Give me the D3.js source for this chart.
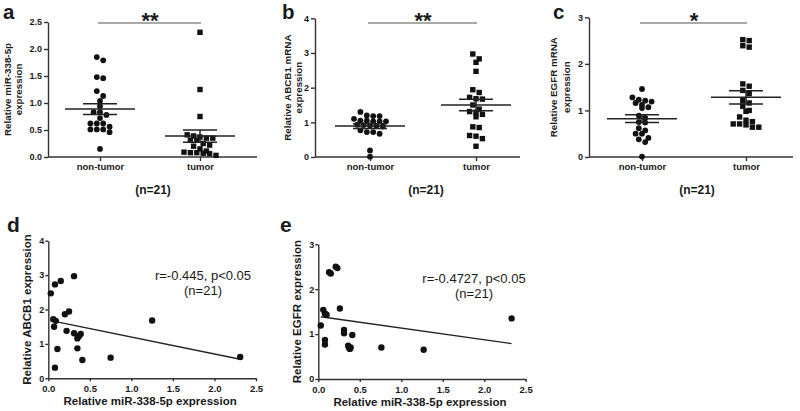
<!DOCTYPE html>
<html>
<head>
<meta charset="utf-8">
<script src="https://cdn.jsdelivr.net/npm/d3@7"></script>
<style>
  body { margin: 0; background: #fff; }
  svg text { font-family: "Liberation Sans", Arial, sans-serif; fill: #1a1a1a; }
</style>
</head>
<body>
<div id="chart"></div>
<script>
// groups on the dot plots
const groups = ['non-tumor', 'tumor'];

// a: miR-338-5p
const miRNonTumor = [1.85, 1.79, 1.46, 1.48, 1.22, 1.13, 1.04, 0.94, 0.83, 0.83, 0.78, 0.72, 0.62, 0.62, 0.62, 0.51, 0.51, 0.46, 0.51, 0.56, 0.15];
const miRTumor = [0.03, 0.08, 0.15, 0.31, 0.20, 0.25, 0.06, 0.09, 0.07, 0.22, 0.31, 0.39, 0.37, 0.35, 0.11, 0.35, 0.41, 0.08, 0.75, 1.25, 2.31];

// b: ABCB1 (tumor values paired with miRTumor, used in d)
const abcb1NonTumor = [1.30, 1.18, 1.10, 1.18, 1.20, 1.03, 1.05, 1.03, 1.05, 1.03, 0.93, 0.90, 0.92, 0.88, 0.91, 0.77, 0.72, 0.67, 0.72, 0.19, 0.01];
const abcb1Tumor = [2.47, 2.73, 2.83, 2.97, 1.86, 1.94, 1.72, 1.67, 1.50, 1.38, 1.31, 1.29, 1.23, 1.16, 0.85, 0.87, 0.53, 0.31, 0.60, 1.68, 0.62];

// c: EGFR
const egfrNonTumor = [1.46, 1.16, 1.23, 1.19, 1.21, 1.28, 1.07, 1.05, 1.12, 0.89, 0.84, 0.75, 0.74, 0.62, 0.57, 0.50, 0.50, 0.38, 0.41, 0.32, 0.01];
const egfrTumor = [2.50, 2.52, 2.39, 2.36, 1.57, 1.52, 1.43, 1.36, 1.21, 1.16, 1.09, 1.00, 0.98, 0.86, 0.79, 0.76, 0.71, 0.69, 0.64, 0.64, 0.71];

// e: miR-338-5p vs EGFR (tumor)
const eMiR = [0.13, 0.15, 0.21, 0.23, 0.06, 0.08, 0.10, 0.26, 0.03, 0.31, 0.31, 0.41, 0.08, 0.08, 0.36, 0.39, 0.38, 0.76, 1.27, 2.33, 0.37];
const eEGFR = [2.38, 2.35, 2.50, 2.47, 1.54, 1.46, 1.43, 1.57, 1.19, 1.09, 1.02, 0.98, 0.87, 0.77, 0.74, 0.70, 0.67, 0.70, 0.65, 1.35, 0.70];

// ticks
const ticksA = [0, 0.5, 1.0, 1.5, 2.0, 2.5];
const ticks4 = [0, 1, 2, 3, 4];
const ticks3 = [0, 1, 2, 3];
const ticksMiR = [0, 0.5, 1.0, 1.5, 2.0, 2.5];

const AX = '#333';
const DOT = '#111';
const FONT = '"Liberation Sans", Arial, sans-serif';

const svg = d3.select('#chart').append('svg')
    .attr('width', 800)
    .attr('height', 411)
    .attr('font-family', FONT);

function styleAxis(sel, size) {
    sel.attr('font-family', FONT);
    sel.selectAll('path, line').attr('stroke', AX).attr('stroke-width', 1.4);
    sel.selectAll('text').attr('font-size', size).attr('font-weight', 'bold').attr('fill', '#1a1a1a');
}

// GraphPad-like column scatter: group close values into rows, spread them sideways
function swarm(values, y, binH, gap) {
    const pts = values.map(v => ({ v, py: y(v) })).sort((a, b) => a.py - b.py);
    const out = [];
    let bin = [];
    const flush = () => {
        bin.forEach((p, i) => { p.dx = (i - (bin.length - 1) / 2) * gap; out.push(p); });
        bin = [];
    };
    pts.forEach(p => {
        if (bin.length && p.py - bin[0].py > binH) flush();
        bin.push(p);
    });
    flush();
    return out;
}

function dotPanel(cfg) {
    const g = svg.append('g');
    const y = d3.scaleLinear().domain([0, cfg.yMax]).range([cfg.bottom, cfg.top]);
    const x = d3.scalePoint().domain(groups).range(cfg.cats);

    const yAx = g.append('g').attr('transform', `translate(${cfg.left},0)`)
        .call(d3.axisLeft(y).tickValues(cfg.yTicks).tickFormat(cfg.fmt).tickSize(4).tickPadding(2).tickSizeOuter(0));
    styleAxis(yAx, 9);

    const xAx = g.append('g').attr('transform', `translate(0,${cfg.bottom})`)
        .call(d3.axisBottom(x).tickSize(4).tickSizeOuter(0));
    xAx.select('.domain').remove();
    styleAxis(xAx, 9.5);
    xAx.selectAll('text').attr('dy', null).attr('y', 13);
    g.append('line')
        .attr('x1', cfg.left).attr('x2', cfg.right)
        .attr('y1', cfg.bottom).attr('y2', cfg.bottom)
        .attr('stroke', AX).attr('stroke-width', 1.4);

    // y label, two lines
    cfg.yLabel.forEach((t, i) => {
        g.append('text')
            .attr('transform', `translate(${cfg.yLabX[i]},${(cfg.top + cfg.bottom) / 2}) rotate(-90)`)
            .attr('text-anchor', 'middle')
            .attr('font-size', 9.8).attr('font-weight', 'bold')
            .text(t);
    });

    // panel letter
    g.append('text').attr('x', cfg.letterX).attr('y', 19)
        .attr('font-size', 20.5).attr('font-weight', 'bold').text(cfg.letter);

    // significance bar
    g.append('line')
        .attr('x1', x(groups[0]) - 2).attr('x2', x(groups[1]) + 1)
        .attr('y1', 23).attr('y2', 23)
        .attr('stroke', '#555').attr('stroke-width', 1.2);
    g.append('text')
        .attr('x', (x(groups[0]) + x(groups[1])) / 2).attr('y', 28)
        .attr('text-anchor', 'middle')
        .attr('font-size', 22).attr('font-weight', 'bold')
        .text(cfg.sig);

    g.append('text')
        .attr('x', (x(groups[0]) + x(groups[1])) / 2 + 3).attr('y', 194)
        .attr('text-anchor', 'middle')
        .attr('font-size', 12).attr('font-weight', 'bold')
        .text('(n=21)');

    // points
    [cfg.a, cfg.b].forEach((vals, gi) => {
        const cx = x(groups[gi]);
        const pts = swarm(vals, y, 5, 6.4);
        if (gi === 0) {
            g.selectAll(null).data(pts).enter().append('circle')
                .attr('cx', d => cx + d.dx).attr('cy', d => d.py)
                .attr('r', 2.9).attr('fill', DOT);
        } else {
            g.selectAll(null).data(pts).enter().append('rect')
                .attr('x', d => cx + d.dx - 2.7).attr('y', d => d.py - 2.7)
                .attr('width', 5.4).attr('height', 5.4).attr('fill', DOT);
        }

        // mean +/- SEM
        const m = d3.mean(vals);
        const sem = d3.deviation(vals) / Math.sqrt(vals.length);
        const lg = g.append('g').attr('stroke', '#222').attr('stroke-width', 1.5);
        lg.append('line').attr('x1', cx - 35).attr('x2', cx + 35).attr('y1', y(m)).attr('y2', y(m));
        [m - sem, m + sem].forEach(v => {
            lg.append('line').attr('x1', cx - 17).attr('x2', cx + 17).attr('y1', y(v)).attr('y2', y(v));
        });
        lg.append('line').attr('x1', cx).attr('x2', cx).attr('y1', y(m - sem)).attr('y2', y(m + sem));
    });
}

function linFit(xs, ys) {
    const mx = d3.mean(xs), my = d3.mean(ys);
    const b = d3.sum(xs, (v, i) => (v - mx) * (ys[i] - my)) / d3.sum(xs, v => (v - mx) ** 2);
    return { b, a: my - b * mx };
}

function corrPanel(cfg) {
    const g = svg.append('g');
    const x = d3.scaleLinear().domain([0, 2.5]).range([cfg.left, cfg.right]);
    const y = d3.scaleLinear().domain([0, cfg.yMax]).range([cfg.bottom, cfg.top]);

    const yAx = g.append('g').attr('transform', `translate(${cfg.left},0)`)
        .call(d3.axisLeft(y).tickValues(cfg.yTicks).tickFormat(d3.format('d')).tickSize(3).tickPadding(1).tickSizeOuter(0));
    styleAxis(yAx, 9);

    const xAx = g.append('g').attr('transform', `translate(0,${cfg.bottom})`)
        .call(d3.axisBottom(x).tickValues(ticksMiR).tickFormat(d3.format('.1f')).tickSize(3).tickSizeOuter(0));
    styleAxis(xAx, 9.5);
    xAx.selectAll('text').attr('dy', null).attr('y', 14);

    g.append('text')
        .attr('x', (cfg.left + cfg.right) / 2 - 2).attr('y', cfg.bottom + 27)
        .attr('text-anchor', 'middle')
        .attr('font-size', 11.5).attr('font-weight', 'bold')
        .text('Relative miR-338-5p expression');

    g.append('text')
        .attr('transform', `translate(${cfg.yLabX},${(cfg.top + cfg.bottom) / 2}) rotate(-90)`)
        .attr('text-anchor', 'middle')
        .attr('font-size', 11.5).attr('font-weight', 'bold')
        .text(cfg.yLabel);

    g.append('text').attr('x', cfg.letterX).attr('y', 232)
        .attr('font-size', 21).attr('font-weight', 'bold').text(cfg.letter);

    const fit = linFit(cfg.xs, cfg.ys);
    const x0 = d3.min(cfg.xs), x1 = d3.max(cfg.xs);
    g.append('line')
        .attr('x1', x(x0)).attr('y1', y(fit.a + fit.b * x0))
        .attr('x2', x(x1)).attr('y2', y(fit.a + fit.b * x1))
        .attr('stroke', '#222').attr('stroke-width', 1.3);

    g.selectAll(null).data(cfg.xs).enter().append('circle')
        .attr('cx', d => x(d)).attr('cy', (d, i) => y(cfg.ys[i]))
        .attr('r', 3.2).attr('fill', DOT);

    g.append('text').attr('x', cfg.noteX).attr('y', cfg.noteY)
        .attr('text-anchor', 'middle').attr('font-size', 13).text(cfg.note);
    g.append('text').attr('x', cfg.noteX).attr('y', cfg.noteY + 15)
        .attr('text-anchor', 'middle').attr('font-size', 13).text('(n=21)');
}

dotPanel({
    letter: 'a', letterX: 3, sig: '**',
    left: 48, right: 257, top: 22, bottom: 157, cats: [100, 200],
    yMax: 2.5, yTicks: ticksA, fmt: d3.format('.1f'),
    yLabel: ['Relative miR-338-5p', 'expression'], yLabX: [11, 22],
    a: miRNonTumor, b: miRTumor
});

dotPanel({
    letter: 'b', letterX: 282, sig: '**',
    left: 315, right: 520, top: 18.3, bottom: 157, cats: [370, 476],
    yMax: 4, yTicks: ticks4, fmt: d3.format('d'),
    yLabel: ['Relative ABCB1 mRNA', 'expression'], yLabX: [291, 302],
    a: abcb1NonTumor, b: abcb1Tumor
});

dotPanel({
    letter: 'c', letterX: 553, sig: '*',
    left: 589, right: 793, top: 17.3, bottom: 157, cats: [642, 746],
    yMax: 3, yTicks: ticks3, fmt: d3.format('d'),
    yLabel: ['Relative EGFR mRNA', 'expression'], yLabX: [557, 570],
    a: egfrNonTumor, b: egfrTumor
});

corrPanel({
    letter: 'd', letterX: 7,
    left: 48.3, right: 256, top: 240.7, bottom: 378.3,
    yMax: 4, yTicks: ticks4, yLabel: 'Relative ABCB1 expression', yLabX: 31,
    xs: miRTumor, ys: abcb1Tumor,
    note: 'r=-0.445, p<0.05', noteX: 203, noteY: 280
});

corrPanel({
    letter: 'e', letterX: 280,
    left: 318.3, right: 525.7, top: 244.3, bottom: 379,
    yMax: 3, yTicks: ticks3, yLabel: 'Relative EGFR expression', yLabX: 301,
    xs: eMiR, ys: eEGFR,
    note: 'r=-0.4727, p<0.05', noteX: 474, noteY: 283
});
</script>
</body>
</html>
